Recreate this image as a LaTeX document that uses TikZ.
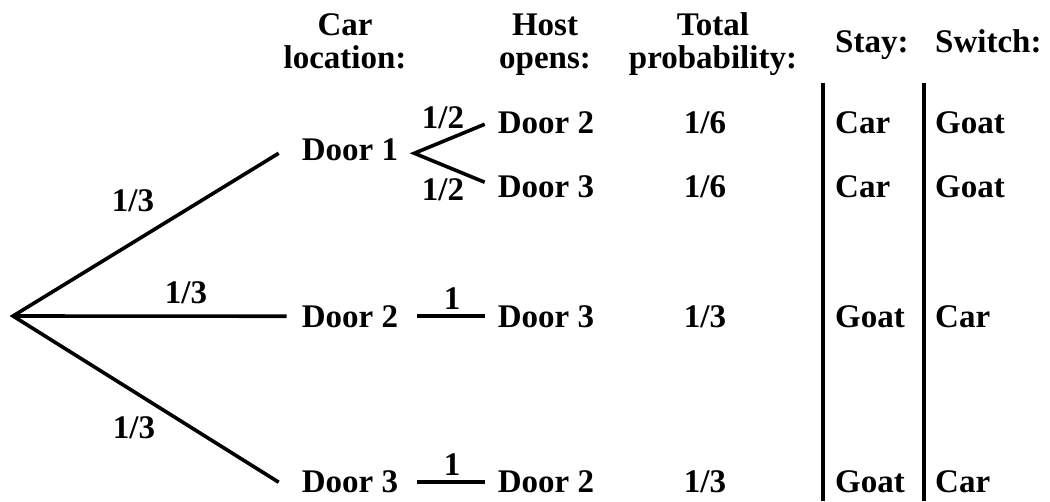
\documentclass[tikz,border=0pt]{standalone}
\usepackage{fontspec}
\setmainfont{Liberation Serif}
\begin{document}
\begin{tikzpicture}[x=1pt,y=-1pt,
  txt/.style={inner sep=0pt, anchor=base, font=\fontsize{33}{33}\selectfont\bfseries},
  ltxt/.style={txt, anchor=base west},
  branch/.style={line width=3.6pt},
  rule/.style={line width=3.6pt}]
\useasboundingbox (0,0) rectangle (1050,501);

% column headings
\node[txt] (hc1) at (345,35) {Car};
\node[txt] (hc2) at (345,68) {location:};
\node[txt] (hh1) at (545,35) {Host};
\node[txt] (hh2) at (545,68) {opens:};
\node[txt] (ht1) at (713,35) {Total};
\node[txt] (ht2) at (713,68) {probability:};
\node[ltxt] (hs) at (835,52) {Stay:};
\node[ltxt] (hw) at (935,52) {Switch:};

% root of the tree
\coordinate (root) at (13,316);

% car location
\node[txt] (d1) at (350,160) {Door 1};
\node[txt] (d2) at (350,327) {Door 2};
\node[txt] (d3) at (350,492) {Door 3};

% door opened by the host
\node[txt] (h12) at (546,133) {Door 2};
\node[txt] (h13) at (546,197) {Door 3};
\node[txt] (h23) at (546,327) {Door 3};
\node[txt] (h32) at (546,492) {Door 2};

% first-level branches
\draw[branch, line join=miter] ([xshift=-23pt,yshift=-4pt]d1.west) -- (root) -- ([xshift=-23pt,yshift=-1pt]d3.west);
\draw[branch] (root) -- ([xshift=-15pt]d2.west);
\node[txt] (p1) at (133,211) {1/3};
\node[txt] (p2) at (186,303) {1/3};
\node[txt] (p3) at (134,438) {1/3};

% second-level branches
\coordinate (v1) at ([xshift=16pt,yshift=-4pt]d1.east);
\draw[branch, line join=miter] ([xshift=-13pt,yshift=-2pt]h12.west) -- (v1) -- ([xshift=-13pt,yshift=4pt]h13.west);
\draw[branch] ([xshift=19pt]d2.east) -- ([xshift=-13pt]h23.west);
\draw[branch] ([xshift=19pt,yshift=-1pt]d3.east) -- ([xshift=-13pt,yshift=-1pt]h32.west);
\node[txt] (q12) at (443,128) {1/2};
\node[txt] (q13) at (443,200) {1/2};
\node[txt] (q23) at (452,309) {1};
\node[txt] (q32) at (452,475) {1};

% total probabilities
\node[txt] (t1) at (705,133) {1/6};
\node[txt] (t2) at (705,197) {1/6};
\node[txt] (t3) at (705,327) {1/3};
\node[txt] (t4) at (705,492) {1/3};

% outcomes
\node[ltxt] (s1) at (835,133) {Car};
\node[ltxt] (s2) at (835,197) {Car};
\node[ltxt] (s3) at (835,327) {Goat};
\node[ltxt] (s4) at (835,492) {Goat};
\node[ltxt] (w1) at (935,133) {Goat};
\node[ltxt] (w2) at (935,197) {Goat};
\node[ltxt] (w3) at (935,327) {Car};
\node[ltxt] (w4) at (935,492) {Car};

% column rules
\coordinate (r1t) at (823,83);
\coordinate (r1b) at (823,501);
\coordinate (r2t) at (924,83);
\coordinate (r2b) at (924,501);
\draw[rule] (r1t) -- (r1b);
\draw[rule] (r2t) -- (r2b);
\end{tikzpicture}
\end{document}
